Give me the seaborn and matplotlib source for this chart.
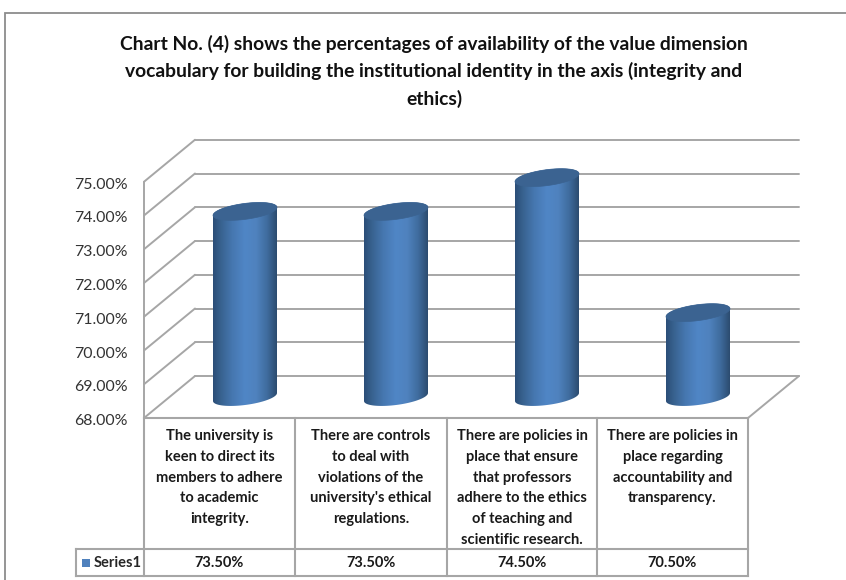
import numpy as np
import pandas as pd
import seaborn as sns
import matplotlib
matplotlib.use("Agg")
import matplotlib.pyplot as plt
from matplotlib.colors import LinearSegmentedColormap
from matplotlib.patches import Polygon, Rectangle

title_lines = [
    "Chart No. (4) shows the percentages of availability of the value dimension",
    "vocabulary for building the institutional identity in the axis (integrity and",
    "ethics)",
]
categories = [
    "The university is\nkeen to direct its\nmembers to adhere\nto academic\nintegrity.",
    "There are controls\nto deal with\nviolations of the\nuniversity's ethical\nregulations.",
    "There are policies in\nplace that ensure\nthat professors\nadhere to the ethics\nof teaching and\nscientific research.",
    "There are policies in\nplace regarding\naccountability and\ntransparency.",
]
values = [73.5, 73.5, 74.5, 70.5]
series_name = "Series1"
axis_ticks = [68, 69, 70, 71, 72, 73, 74, 75]

WIDTH, HEIGHT = 846, 580
CAT_PX = 151.0      # width of one category
UNIT_PX = 33.75     # height of one percentage point
ORIGIN_X, ORIGIN_Y = 245.0, 397.0   # first category, 68 % on the mid-depth plane
DEPTH_X, DEPTH_Y = 25.5 / CAT_PX, 21.0 / UNIT_PX   # half depth of the 3-D box

GRID = "#A6A6A6"
BLUE = "#4F81BD"

sns.set_theme(style="white")
plt.rcParams["font.family"] = ["Lato", "DejaVu Sans"]

fig = plt.figure(figsize=(WIDTH / 100, HEIGHT / 100), dpi=100, facecolor="white")

# Pixel-space layer for the chart frame, title and data table
page = fig.add_axes([0, 0, 1, 1], zorder=1)
page.set_xlim(0, WIDTH)
page.set_ylim(HEIGHT, 0)
page.axis("off")

# Value layer: categories on x, percentages on y
ax = fig.add_axes([0, 0, 1, 1], zorder=2)
ax.patch.set_alpha(0)
frame = pd.DataFrame({"category": categories, "value": values})
sns.barplot(data=frame, x="category", y="value", width=64 / CAT_PX, ax=ax, color=BLUE)
bars = list(ax.patches)

x_lo = -ORIGIN_X / CAT_PX
x_hi = (WIDTH - ORIGIN_X) / CAT_PX
y_hi = 68 + ORIGIN_Y / UNIT_PX
y_lo = 68 - (HEIGHT - ORIGIN_Y) / UNIT_PX

# Chart frame
page.plot([5, 5, WIDTH], [HEIGHT, 13, 13], color="#8C8C8C", lw=1.3, solid_joinstyle="miter")

# Title
for line, py in zip(title_lines, [44, 71, 99]):
    page.text(434, py, line, ha="center", va="center", fontsize=13.9,
              fontweight="bold", color="#111111")

# 3-D box: back wall gridlines, side wall diagonals and floor
left = -0.5
right = len(categories) - 0.5
for tick in axis_ticks:
    ax.plot([left + DEPTH_X, right + DEPTH_X], [tick + DEPTH_Y] * 2, color=GRID, lw=1.4, zorder=1)
    ax.plot([left - DEPTH_X, left + DEPTH_X], [tick - DEPTH_Y, tick + DEPTH_Y],
            color=GRID, lw=1.4, zorder=1)
    ax.text(left - DEPTH_X - 16 / CAT_PX, tick - DEPTH_Y - 3 / UNIT_PX, f"{tick:.2f}%", ha="right",
            va="center", fontsize=11.4, color="#333333")
ax.plot([left - DEPTH_X] * 2, [axis_ticks[0] - DEPTH_Y, axis_ticks[-1] - DEPTH_Y],
        color=GRID, lw=1.4, zorder=1)
ax.plot([right - DEPTH_X, right + DEPTH_X], [axis_ticks[0] - DEPTH_Y, axis_ticks[0] + DEPTH_Y],
        color=GRID, lw=1.4, zorder=1)

# Cylinders: each seaborn bar supplies its centre, width and height
shade = LinearSegmentedColormap.from_list(
    "cylinder",
    [(0.0, "#2B4E78"), (0.12, "#38628F"), (0.30, "#4677B0"), (0.50, "#5086C6"),
     (0.68, "#4F82BE"), (0.85, "#3F6C9E"), (1.0, "#2C4C70")],
)
gradient = np.linspace(0, 1, 128).reshape(1, -1)


def rim(cx, half_w, level, start, stop):
    t = np.linspace(start, stop, 60)
    px = half_w * CAT_PX * np.cos(t)
    py = 8.0 * np.sin(t) + 4.0 * np.cos(t)
    return np.column_stack([cx + px / CAT_PX, level + py / UNIT_PX])


for bar in bars:
    bar.set_visible(False)
    half_w = bar.get_width() / 2
    cx = bar.get_x() + half_w
    top = bar.get_height()
    base = axis_ticks[0]
    outline = np.vstack([rim(cx, half_w, base, np.pi, 2 * np.pi), rim(cx, half_w, top, 0, np.pi)])
    body = Polygon(outline, closed=True, fc="none", ec="none", transform=ax.transData)
    ax.add_patch(body)
    image = ax.imshow(gradient, cmap=shade, aspect="auto", zorder=3,
                      extent=[cx - half_w, cx + half_w, base - 0.5, top + 0.5])
    image.set_clip_path(body)
    ax.add_patch(Polygon(rim(cx, half_w, top, 0, 2 * np.pi), closed=True, fc="#3B6391",
                         ec="#3B6391", lw=0.5, zorder=4))

ax.set_xlim(x_lo, x_hi)
ax.set_ylim(y_lo, y_hi)
ax.axis("off")

# Data table below the plot
col_edges = [144, 295, 447, 597, 748]
row_top, row_mid, row_bottom = 418, 549, 576
table_kw = dict(color=GRID, lw=1.5, solid_capstyle="projecting")
page.plot([col_edges[0], col_edges[-1]], [row_top, row_top], **table_kw)
page.plot([76, col_edges[-1]], [row_mid, row_mid], **table_kw)
page.plot([76, col_edges[-1]], [row_bottom, row_bottom], **table_kw)
page.plot([76, 76], [row_mid, row_bottom], **table_kw)
for edge in col_edges:
    page.plot([edge, edge], [row_top, row_bottom], **table_kw)

for i, (label, value) in enumerate(zip(categories, values)):
    mid = (col_edges[i] + col_edges[i + 1]) / 2
    page.text(mid, 429, label, ha="center", va="top", fontsize=10.5, fontweight="bold",
              color="#1A1A1A", linespacing=1.62)
    page.text(mid, 563, f"{value:.2f}%", ha="center", va="center", fontsize=10.5,
              fontweight="bold", color="#1A1A1A")

page.add_patch(Rectangle((82, 559), 7.5, 8, fc=BLUE, ec="none"))
page.text(94, 563, series_name, ha="left", va="center", fontsize=10.5, fontweight="bold",
          color="#262626")

fig.savefig("out.png", dpi=100, facecolor="white")
